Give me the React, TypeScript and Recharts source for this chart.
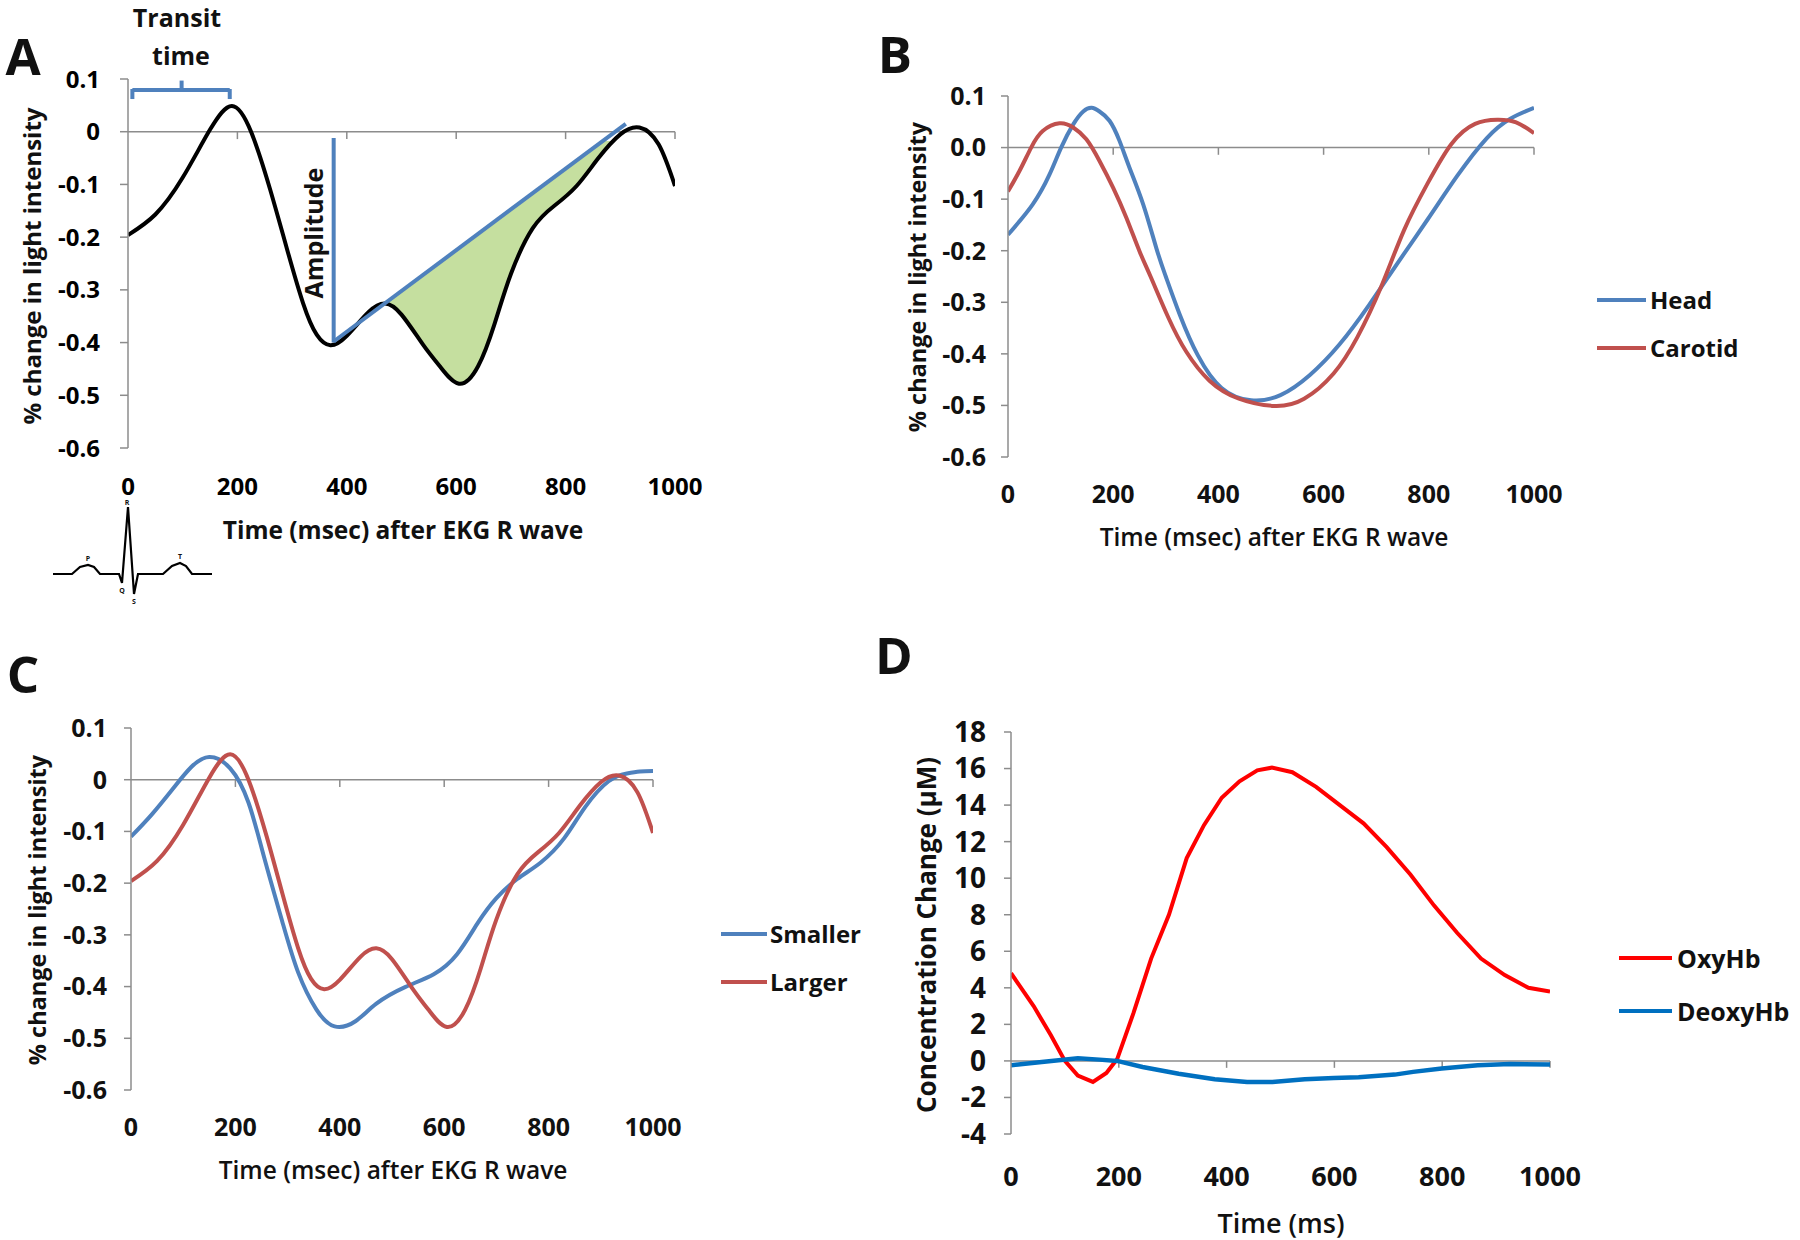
import React from 'react'
import { ComposedChart, LineChart, Line, Area, XAxis, YAxis, ReferenceLine } from 'recharts'

const FONT = '"Open Sans", "Liberation Sans", Arial, sans-serif'
const AXIS = '#8c8c8c'
const BLUE = '#4f81bd'
const RED = '#c0504d'

// shared time ticks
const timeTicks = [0, 200, 400, 600, 800, 1000]
const pulseTicks = [-0.6, -0.5, -0.4, -0.3, -0.2, -0.1, 0, 0.1]
const concTicks = [-4, -2, 0, 2, 4, 6, 8, 10, 12, 14, 16, 18]

// A and C "Larger": same averaged pulse
const largerTime = [0, 50, 100, 150, 190, 225, 260, 290, 320, 345, 370, 400, 440, 470, 500, 540, 570, 605, 640, 670, 700, 740, 780, 820, 860, 900, 935, 970, 1000]
const largerVal = [-0.196, -0.157, -0.087, 0.004, 0.049, 0.0, -0.11, -0.22, -0.325, -0.385, -0.405, -0.387, -0.342, -0.326, -0.347, -0.405, -0.445, -0.478, -0.445, -0.365, -0.27, -0.183, -0.14, -0.103, -0.05, -0.005, 0.008, -0.024, -0.103]

// A: shaded area between the curve and the diagonal
const shadeTime = [470, 500, 540, 570, 605, 640, 670, 700, 740, 780, 820, 860, 885]
const shadeLow = [-0.326, -0.347, -0.405, -0.445, -0.478, -0.445, -0.365, -0.27, -0.183, -0.14, -0.103, -0.05, -0.018]
const shadeHigh = [-0.326, -0.303, -0.272, -0.248, -0.221, -0.194, -0.171, -0.147, -0.116, -0.085, -0.054, -0.023, -0.018]

// B
const headTime = [0, 47, 79, 101, 124, 143, 159, 174, 193, 212, 231, 257, 282, 300, 327, 361, 406, 462, 518, 574, 630, 686, 742, 798, 854, 910, 955, 1000]
const headVal = [-0.169, -0.11, -0.052, 0.0, 0.045, 0.07, 0.077, 0.07, 0.052, 0.013, -0.039, -0.11, -0.195, -0.25, -0.325, -0.403, -0.466, -0.49, -0.48, -0.441, -0.382, -0.306, -0.222, -0.139, -0.055, 0.018, 0.056, 0.077]
const carotidTime = [0, 22, 44, 66, 98, 124, 149, 174, 200, 225, 250, 271, 305, 339, 383, 439, 507, 563, 619, 664, 709, 753, 798, 843, 888, 930, 966, 1000]
const carotidVal = [-0.085, -0.045, 0.0, 0.032, 0.047, 0.039, 0.016, -0.026, -0.078, -0.136, -0.201, -0.25, -0.33, -0.396, -0.452, -0.487, -0.501, -0.487, -0.438, -0.368, -0.271, -0.16, -0.069, 0.007, 0.046, 0.054, 0.049, 0.028]

// C "Smaller"
const smallerTime = [0, 40, 83, 116, 150, 190, 225, 255, 290, 320, 355, 390, 430, 470, 525, 580, 625, 665, 700, 740, 785, 830, 870, 915, 950, 975, 1000]
const smallerVal = [-0.11, -0.067, -0.014, 0.025, 0.044, 0.022, -0.044, -0.15, -0.275, -0.372, -0.444, -0.477, -0.467, -0.433, -0.401, -0.376, -0.337, -0.276, -0.229, -0.192, -0.16, -0.113, -0.053, -0.003, 0.012, 0.016, 0.017]

// D
const oxyTime = [0, 42, 74, 100, 124, 152, 177, 197, 227, 260, 293, 326, 358, 391, 424, 457, 484, 522, 566, 610, 654, 697, 741, 785, 828, 872, 916, 960, 1000]
const oxyVal = [4.8, 3.0, 1.4, 0.0, -0.8, -1.15, -0.66, 0.1, 2.6, 5.6, 8.0, 11.1, 12.9, 14.4, 15.3, 15.9, 16.05, 15.8, 15.0, 14.0, 13.0, 11.7, 10.2, 8.5, 7.0, 5.6, 4.7, 4.0, 3.8]
const deoxyTime = [0, 57, 124, 164, 197, 244, 311, 378, 438, 485, 545, 599, 645, 712, 746, 799, 866, 926, 1000]
const deoxyVal = [-0.24, -0.06, 0.15, 0.07, 0.0, -0.33, -0.7, -1.0, -1.16, -1.16, -1.0, -0.94, -0.9, -0.75, -0.6, -0.42, -0.24, -0.17, -0.2]

// EKG sketch under panel A
const ekgX = [0, 19, 27, 35, 41, 47, 66, 69, 75, 81, 85, 110, 119, 127, 133, 139, 159]
const ekgY = [0, 0, 7, 9, 7, 0, 0, -9, 67, -20, 0, 0, 8, 11, 8, 0, 0]

const pts = (ts: number[], vs: number[]) => ts.map((t, i) => ({ t, v: vs[i] }))
const fmtPulse = (v: number) => (v === 0 ? '0' : v.toFixed(1))
const fmtPulseB = (v: number) => v.toFixed(1)

type TextProps = { x: number; y: number; size: number; weight?: number; rotate?: boolean; left?: boolean; children: React.ReactNode }
function Txt({ x, y, size, weight = 700, rotate, left, children }: TextProps) {
  return (
    <div
      style={{
        position: 'absolute',
        left: x,
        top: y,
        fontSize: size,
        fontWeight: weight,
        lineHeight: 1,
        whiteSpace: 'nowrap',
        color: '#111',
        transform: left ? 'translate(0,-50%)' : `translate(-50%,-50%)${rotate ? ' rotate(-90deg)' : ''}`,
      }}
    >
      {children}
    </div>
  )
}

function Swatch({ x1, x2, y, color }: { x1: number; x2: number; y: number; color: string }) {
  return <div style={{ position: 'absolute', left: x1, top: y - 2, width: x2 - x1, height: 4, background: color }} />
}

const YW = 130
const TM = 25
const RM = 50
const XH = 70

function box(left: number, top: number) {
  return { position: 'absolute' as const, left: left - YW, top: top - TM }
}

const axisLine = { stroke: AXIS, strokeWidth: 1.5 }

function zeroTicks(len: number) {
  return timeTicks.slice(1).map((t) => (
    <ReferenceLine key={t} segment={[{ x: t, y: 0 }, { x: t, y: -len }]} stroke={AXIS} strokeWidth={1.5} />
  ))
}

export default function App() {
  const larger = pts(largerTime, largerVal)
  const shade = shadeTime.map((t, i) => ({ t, range: [shadeLow[i], shadeHigh[i]] }))
  const head = pts(headTime, headVal)
  const carotid = pts(carotidTime, carotidVal)
  const smaller = pts(smallerTime, smallerVal)
  const oxy = pts(oxyTime, oxyVal)
  const deoxy = pts(deoxyTime, deoxyVal)
  const ekg = pts(ekgX, ekgY)

  const tickA = { fontSize: 24, fontWeight: 700, fill: '#000', fontFamily: FONT }
  const tickB = { fontSize: 25, fontWeight: 700, fill: '#111', fontFamily: FONT }
  const tickDx = { fontSize: 27, fontWeight: 700, fill: '#111', fontFamily: FONT }
  const tickDy = { fontSize: 28, fontWeight: 700, fill: '#111', fontFamily: FONT }

  return (
    <div style={{ position: 'absolute', left: 0, top: 0, width: 1800, height: 1240, background: '#fff', fontFamily: FONT, overflow: 'hidden' }}>
      {/* Panel A */}
      <div style={box(128, 79)}>
        <ComposedChart width={547 + YW + RM} height={TM + 369 + XH} margin={{ top: TM, right: RM, left: 0, bottom: 0 }}>
          <XAxis type="number" dataKey="t" domain={[0, 1000]} ticks={timeTicks} interval={0} axisLine={false} tickLine={false} tickSize={0} tickMargin={30} height={XH} tick={tickA} allowDataOverflow />
          <YAxis type="number" domain={[-0.6, 0.1]} ticks={pulseTicks} interval={0} width={YW} axisLine={axisLine} tickLine={axisLine} tickSize={8} tickMargin={20} tick={tickA} tickFormatter={fmtPulse} allowDataOverflow />
          <ReferenceLine y={0} stroke={AXIS} strokeWidth={1.5} />
          {zeroTicks(0.014)}
          <Area data={shade} dataKey="range" type="natural" fill="#c5df9f" fillOpacity={1} stroke="none" isAnimationActive={false} />
          <Line data={larger} dataKey="v" type="natural" stroke="#000" strokeWidth={4} dot={false} isAnimationActive={false} />
          <ReferenceLine segment={[{ x: 376, y: -0.398 }, { x: 910, y: 0.015 }]} stroke={BLUE} strokeWidth={4} />
          <ReferenceLine segment={[{ x: 376, y: -0.012 }, { x: 376, y: -0.4 }]} stroke={BLUE} strokeWidth={4} />
          <ReferenceLine segment={[{ x: 8, y: 0.079 }, { x: 186, y: 0.079 }]} stroke={BLUE} strokeWidth={4} />
          <ReferenceLine segment={[{ x: 8, y: 0.081 }, { x: 8, y: 0.062 }]} stroke={BLUE} strokeWidth={4} />
          <ReferenceLine segment={[{ x: 186, y: 0.081 }, { x: 186, y: 0.062 }]} stroke={BLUE} strokeWidth={4} />
          <ReferenceLine segment={[{ x: 98, y: 0.079 }, { x: 98, y: 0.097 }]} stroke={BLUE} strokeWidth={4} />
        </ComposedChart>
      </div>
      <Txt x={23} y={55} size={51}>A</Txt>
      <Txt x={177} y={17} size={25}>Transit</Txt>
      <Txt x={181} y={55} size={25}>time</Txt>
      <Txt x={32} y={266} size={24} rotate>% change in light intensity</Txt>
      <Txt x={403} y={530} size={24.5}>Time (msec) after EKG R wave</Txt>
      <Txt x={313} y={233} size={25} rotate>Amplitude</Txt>

      {/* EKG sketch */}
      <div style={{ position: 'absolute', left: 53, top: 504 }}>
        <LineChart width={159} height={92} margin={{ top: 0, right: 0, left: 0, bottom: 0 }}>
          <XAxis type="number" dataKey="t" domain={[0, 159]} hide />
          <YAxis type="number" domain={[-22, 70]} hide />
          <Line data={ekg} dataKey="v" type="linear" stroke="#000" strokeWidth={2.2} dot={false} isAnimationActive={false} />
        </LineChart>
      </div>
      <Txt x={127} y={502} size={7}>R</Txt>
      <Txt x={88} y={558} size={7}>P</Txt>
      <Txt x={180} y={556} size={7}>T</Txt>
      <Txt x={122} y={590} size={7}>Q</Txt>
      <Txt x={134} y={601} size={7}>S</Txt>

      {/* Panel B */}
      <div style={box(1008, 96)}>
        <LineChart width={526 + YW + RM} height={TM + 361 + XH} margin={{ top: TM, right: RM, left: 0, bottom: 0 }}>
          <XAxis type="number" dataKey="t" domain={[0, 1000]} ticks={timeTicks} interval={0} axisLine={false} tickLine={false} tickSize={0} tickMargin={28} height={XH} tick={tickB} allowDataOverflow />
          <YAxis type="number" domain={[-0.6, 0.1]} ticks={pulseTicks} interval={0} width={YW} axisLine={axisLine} tickLine={axisLine} tickSize={7} tickMargin={15} tick={tickB} tickFormatter={fmtPulseB} allowDataOverflow />
          <ReferenceLine y={0} stroke={AXIS} strokeWidth={1.5} />
          {zeroTicks(0.014)}
          <Line data={head} dataKey="v" type="natural" stroke={BLUE} strokeWidth={4} dot={false} isAnimationActive={false} />
          <Line data={carotid} dataKey="v" type="natural" stroke={RED} strokeWidth={4} dot={false} isAnimationActive={false} />
        </LineChart>
      </div>
      <Txt x={895} y={53} size={51}>B</Txt>
      <Txt x={918} y={277} size={23.5} rotate>% change in light intensity</Txt>
      <Txt x={1274} y={537} size={24.5} weight={600}>Time (msec) after EKG R wave</Txt>
      <Swatch x1={1597} x2={1646} y={299.5} color={BLUE} />
      <Txt x={1650} y={300} size={24} left>Head</Txt>
      <Swatch x1={1597} x2={1646} y={347.5} color={RED} />
      <Txt x={1650} y={348} size={24} left>Carotid</Txt>

      {/* Panel C */}
      <div style={box(131, 728)}>
        <LineChart width={522 + YW + RM} height={TM + 362 + XH} margin={{ top: TM, right: RM, left: 0, bottom: 0 }}>
          <XAxis type="number" dataKey="t" domain={[0, 1000]} ticks={timeTicks} interval={0} axisLine={false} tickLine={false} tickSize={0} tickMargin={28} height={XH} tick={tickB} allowDataOverflow />
          <YAxis type="number" domain={[-0.6, 0.1]} ticks={pulseTicks} interval={0} width={YW} axisLine={axisLine} tickLine={axisLine} tickSize={7} tickMargin={17} tick={tickB} tickFormatter={fmtPulse} allowDataOverflow />
          <ReferenceLine y={0} stroke={AXIS} strokeWidth={1.5} />
          {zeroTicks(0.014)}
          <Line data={smaller} dataKey="v" type="natural" stroke={BLUE} strokeWidth={4} dot={false} isAnimationActive={false} />
          <Line data={larger} dataKey="v" type="natural" stroke={RED} strokeWidth={4} dot={false} isAnimationActive={false} />
        </LineChart>
      </div>
      <Txt x={23} y={673} size={51}>C</Txt>
      <Txt x={38} y={910} size={23.5} rotate>% change in light intensity</Txt>
      <Txt x={393} y={1170} size={24.5} weight={600}>Time (msec) after EKG R wave</Txt>
      <Swatch x1={721} x2={767} y={933.5} color={BLUE} />
      <Txt x={770} y={934} size={24} left>Smaller</Txt>
      <Swatch x1={721} x2={767} y={981.5} color={RED} />
      <Txt x={770} y={982} size={24} left>Larger</Txt>

      {/* Panel D */}
      <div style={box(1011, 732)}>
        <LineChart width={539 + YW + RM} height={TM + 402 + XH} margin={{ top: TM, right: RM, left: 0, bottom: 0 }}>
          <XAxis type="number" dataKey="t" domain={[0, 1000]} ticks={timeTicks} interval={0} axisLine={false} tickLine={false} tickSize={0} tickMargin={33} height={XH} tick={tickDx} allowDataOverflow />
          <YAxis type="number" domain={[-4, 18]} ticks={concTicks} interval={0} width={YW} axisLine={axisLine} tickLine={axisLine} tickSize={7} tickMargin={18} tick={tickDy} allowDataOverflow />
          <ReferenceLine y={0} stroke={AXIS} strokeWidth={1.5} />
          {zeroTicks(0.38)}
          <Line data={oxy} dataKey="v" type="linear" stroke="#ff0000" strokeWidth={4} dot={false} isAnimationActive={false} />
          <Line data={deoxy} dataKey="v" type="linear" stroke="#0070c0" strokeWidth={4.5} dot={false} isAnimationActive={false} />
        </LineChart>
      </div>
      <Txt x={894} y={654} size={51}>D</Txt>
      <Txt x={926} y={935} size={26} rotate>Concentration  Change (µM)</Txt>
      <Txt x={1281} y={1222} size={27} weight={600}>Time (ms)</Txt>
      <Swatch x1={1619} x2={1672} y={958} color="#ff0000" />
      <Txt x={1677} y={958} size={25} left>OxyHb</Txt>
      <Swatch x1={1619} x2={1672} y={1011} color="#0070c0" />
      <Txt x={1677} y={1011} size={25} left>DeoxyHb</Txt>
    </div>
  )
}
